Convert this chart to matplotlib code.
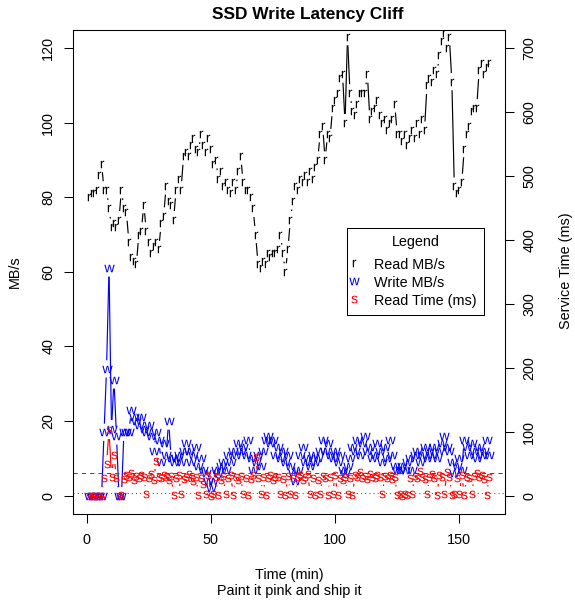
import numpy as np
import matplotlib.pyplot as plt
from matplotlib.collections import LineCollection
from matplotlib.lines import Line2D

plt.rcParams["font.family"] = ["Liberation Sans", "DejaVu Sans"]
plt.rcParams["mathtext.fontset"] = "custom"
plt.rcParams["mathtext.rm"] = "Liberation Sans"

# one sample per minute
minutes = np.arange(1, 163)

read_mbs = [
    80, 81, 81, 82, 86, 89, 82, 82, 77, 72, 73, 72, 74, 82, 77, 76, 68, 64, 63, 62,
    70, 71, 78, 71, 68, 65, 67, 68, 66, 73, 75, 83, 79, 78, 74, 82, 85, 82, 91, 92,
    91, 94, 96, 93, 92, 97, 94, 92, 96, 93, 89, 90, 85, 87, 83, 84, 82, 81, 84, 82,
    87, 91, 84, 82, 82, 80, 77, 70, 62, 61, 63, 62, 65, 64, 65, 65, 66, 70, 65, 60,
    66, 74, 79, 83, 82, 85, 84, 86, 84, 87, 85, 88, 90, 97, 99, 90, 97, 96, 104, 106,
    108, 112, 113, 100, 123, 108, 103, 102, 105, 108, 108, 108, 113, 101, 103, 104, 106, 102, 100, 101,
    98, 100, 101, 105, 97, 97, 95, 97, 94, 96, 98, 96, 100, 97, 101, 98, 110, 112, 111, 114,
    113, 118, 122, 124, 120, 123, 111, 83, 81, 82, 84, 93, 97, 99, 103, 104, 104, 114, 116, 113,
    115, 116,
]

write_mbs = [
    0, 0, 0, 0, 0, 0, 17, 34, 61, 18, 31, 16, 0, 0, 17, 17, 17, 23, 21, 20,
    19, 21, 18, 17, 19, 16, 12, 17, 15, 9, 14, 11, 20, 10, 9, 10, 11, 9, 12, 14,
    12, 9, 11, 13, 8, 10, 7, 6, 4, 2, 4, 7, 6, 8, 9, 7, 11, 9, 12, 11,
    14, 12, 13, 11, 15, 10, 7, 9, 11, 8, 12, 15, 16, 14, 15, 11, 13, 10, 12, 9,
    11, 8, 6, 4, 7, 11, 13, 9, 10, 8, 11, 9, 10, 12, 15, 12, 14, 11, 10, 12,
    9, 11, 7, 6, 8, 10, 13, 12, 15, 11, 14, 16, 12, 13, 10, 11, 14, 12, 9, 13,
    10, 15, 11, 8, 7, 7, 8, 7, 9, 10, 7, 11, 12, 9, 11, 13, 10, 12, 11, 13,
    10, 12, 14, 16, 13, 12, 9, 6, 8, 10, 7, 15, 13, 11, 14, 12, 10, 13, 11, 12,
    15, 11,
]

read_time_ms = [
    0, 0, 0, 0, 0, 0, 28, 50, 102, 30, 63, 28, 0, 1, 26, 33, 29, 35, 24, 31,
    27, 33, 30, 2, 28, 34, 25, 55, 30, 27, 33, 29, 24, 31, 1, 28, 32, 2, 26, 30,
    34, 27, 23, 30, 1, 28, 18, 2, 33, 0, 3, 29, 1, 25, 31, 2, 27, 33, 1, 29,
    24, 31, 2, 28, 1, 26, 33, 60, 28, 2, 30, 1, 27, 32, 25, 30, 29, 2, 26, 1,
    31, 3, 27, 1, 29, 33, 25, 30, 34, 2, 28, 1, 24, 2, 31, 27, 1, 29, 2, 33,
    1, 28, 25, 30, 2, 27, 1, 32, 29, 37, 28, 31, 26, 34, 30, 27, 32, 29, 2, 31,
    28, 33, 26, 30, 1, 2, 0, 3, 1, 27, 2, 31, 28, 38, 29, 26, 2, 30, 34, 28,
    1, 32, 29, 2, 37, 30, 1, 3, 28, 2, 33, 1, 30, 27, 2, 31, 35, 29, 32, 26,
    1, 30,
]

read_time_limit_ms = 35
read_time_floor_ms = 5

FS = 10.37
GAP_PX = 8.6
MS_PER_MBS = 700 / 120
R_SIZE, W_SIZE, S_SIZE = 5.4, 7.4, 5.5


def gapped_segments(axis, xs, ys, gap):
    # lines between points with a gap around each point, like R type="b"
    pts = axis.transData.transform(np.column_stack([xs, ys]))
    inv = axis.transData.inverted()
    segs = []
    for (x0, y0), (x1, y1) in zip(pts[:-1], pts[1:]):
        dx, dy = x1 - x0, y1 - y0
        dist = np.hypot(dx, dy)
        if dist <= 2 * gap:
            continue
        f = gap / dist
        segs.append(inv.transform([(x0 + f * dx, y0 + f * dy), (x1 - f * dx, y1 - f * dy)]))
    return segs


def draw_series(axis, xs, ys, glyph, color, size):
    axis.add_collection(LineCollection(gapped_segments(axis, xs, ys, GAP_PX), colors=color, linewidths=0.85))
    axis.plot(xs, ys, linestyle="none", marker=glyph, markersize=size, color=color, markeredgewidth=0)


fig = plt.figure(figsize=(5.75, 6), dpi=100)
fig.patch.set_facecolor("white")
ax = fig.add_axes([73 / 575, 1 - 514 / 600, (505 - 73) / 575, (514 - 29.7) / 600])
ax2 = ax.twinx()

ax.set_xlim(-5.5, 168.4)
ax.set_ylim(-4.9, 124.9)
ax2.set_ylim(-4.9 * MS_PER_MBS, 124.9 * MS_PER_MBS)

r_glyph = r"$\mathregular{r}$"
w_glyph = r"$\mathregular{w}$"
s_glyph = r"$\mathregular{s}$"

draw_series(ax, minutes, read_mbs, r_glyph, "black", R_SIZE)
draw_series(ax, minutes, write_mbs, w_glyph, "blue", W_SIZE)
ax2.axhline(read_time_limit_ms, color="red", linewidth=0.75, linestyle=(0, (4, 4)))
ax2.axhline(read_time_floor_ms, color="red", linewidth=0.75, linestyle=(0, (1, 3)))
draw_series(ax2, minutes, read_time_ms, s_glyph, "red", S_SIZE)

ax.set_xticks([0, 50, 100, 150])
ax.set_yticks(range(0, 121, 20))
ax2.set_yticks(range(0, 701, 100))
ax.tick_params(axis="x", direction="out", length=6.2, width=0.75, labelsize=FS, pad=7.5)
ax.tick_params(axis="y", direction="out", length=6.2, width=0.75, labelsize=FS, pad=6.6)
ax2.tick_params(axis="y", direction="out", length=6.2, width=0.75, labelsize=FS, pad=6.2)
for lab in ax.get_yticklabels() + ax2.get_yticklabels():
    lab.set_rotation(90)
    lab.set_va("center")
for a in (ax, ax2):
    for spine in a.spines.values():
        spine.set_color("black")
        spine.set_linewidth(0.75)

cx = (73 + 505) / 2 / 575
fig.text(308 / 575, 1 - 14 / 600, "SSD Write Latency Cliff", ha="center", va="center", fontsize=12.44, fontweight="bold")
fig.text(cx, 1 - 575 / 600, "Time (min)", ha="center", va="center", fontsize=FS)
fig.text(cx, 1 - 591.5 / 600, "Paint it pink and ship it", ha="center", va="center", fontsize=FS)
fig.text(15 / 575, 1 - 272 / 600, "MB/s", ha="center", va="center", rotation=90, fontsize=FS)
fig.text(566 / 575, 1 - 271 / 600, "Service Time (ms)", ha="center", va="center", rotation=90, fontsize=FS)

handles = [
    Line2D([], [], linestyle="none", marker=r_glyph, color="black", markersize=R_SIZE, markeredgewidth=0),
    Line2D([], [], linestyle="none", marker=w_glyph, color="blue", markersize=W_SIZE, markeredgewidth=0),
    Line2D([], [], linestyle="none", marker=s_glyph, color="red", markersize=S_SIZE, markeredgewidth=0),
]
leg = fig.legend(
    handles,
    ["Read MB/s", "Write MB/s", "Read Time (ms)"],
    title="Legend",
    loc="upper left",
    bbox_to_anchor=(347 / 575, 1 - 228 / 600),
    borderaxespad=0,
    fancybox=False,
    edgecolor="black",
    framealpha=1,
    fontsize=FS,
    title_fontsize=FS,
    borderpad=0.5,
    handlelength=0,
    handleheight=1.27,
    handletextpad=1.39,
    labelspacing=0.16,
)
leg._legend_box.sep = 5.4  # room between the title and the entries
leg.get_frame().set_linewidth(0.75)

fig.savefig("out.png", dpi=100)
plt.close(fig)
